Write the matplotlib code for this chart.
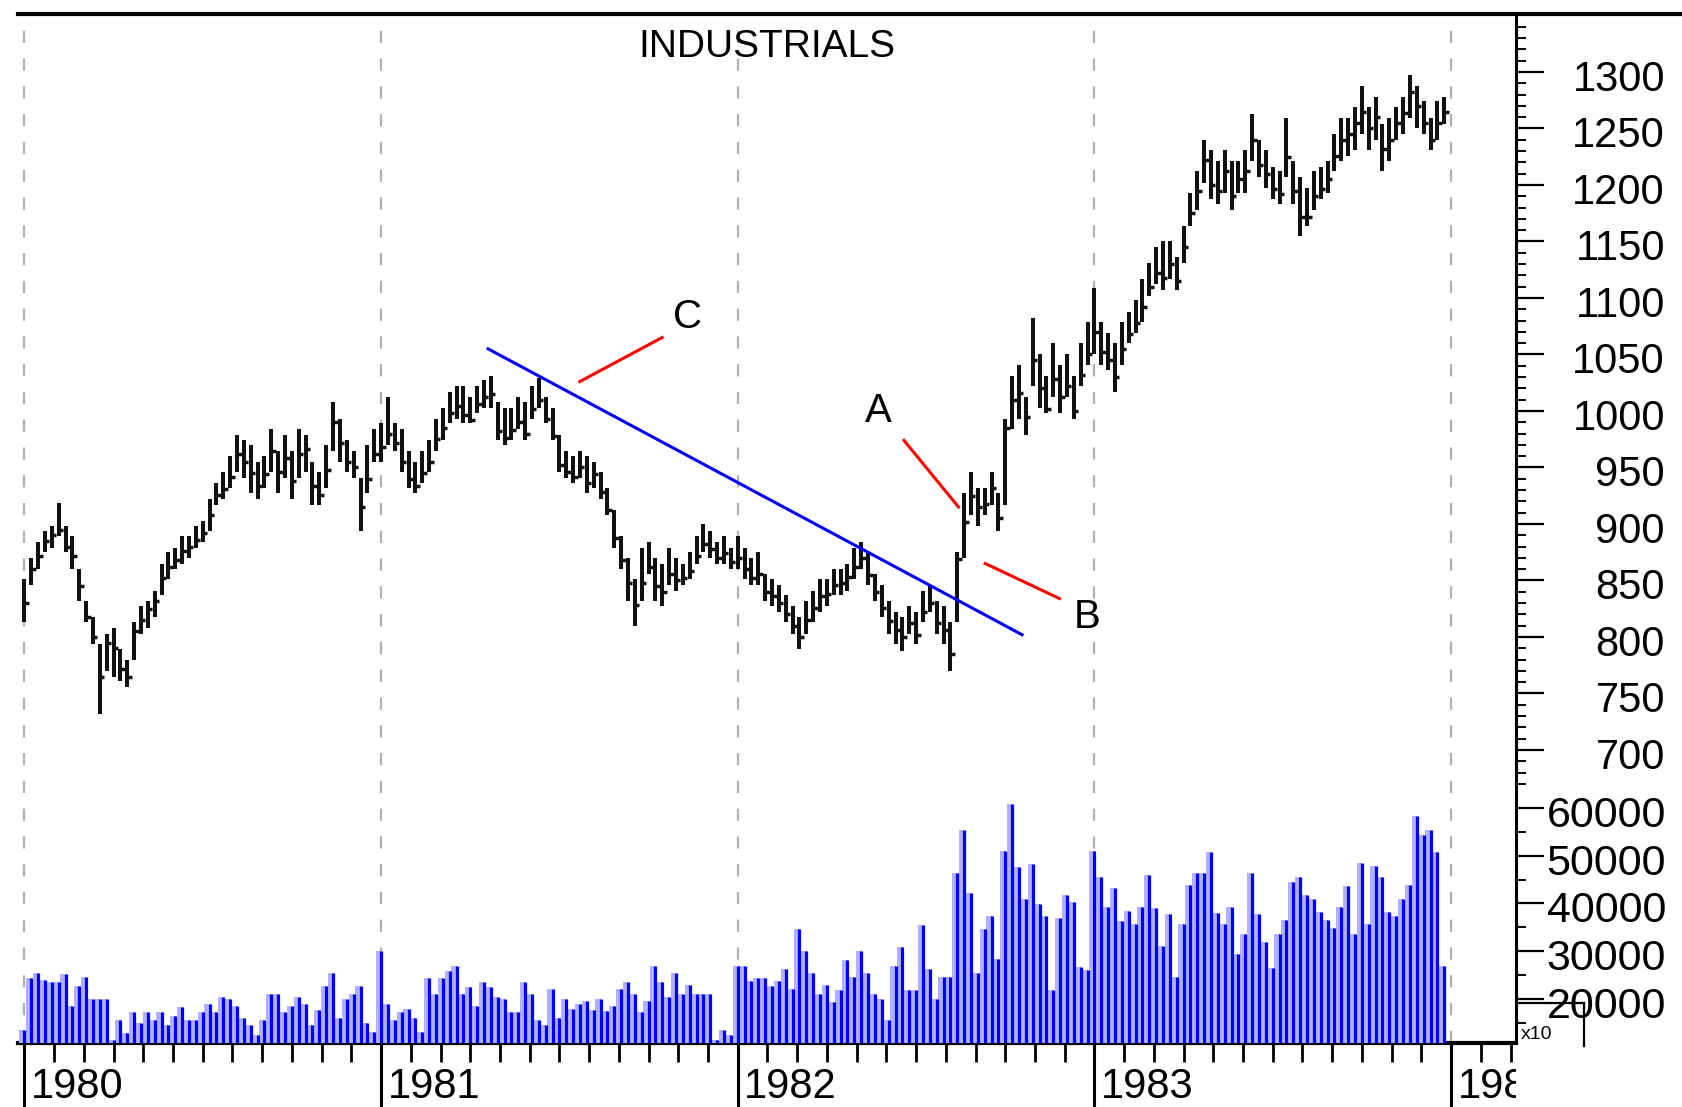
import numpy as np
import matplotlib
matplotlib.use("Agg")
import matplotlib.pyplot as plt
from matplotlib.lines import Line2D
from matplotlib.transforms import Bbox, TransformedBbox, ScaledTranslation, blended_transform_factory

plt.rcParams['font.family'] = ['Liberation Sans', 'DejaVu Sans']

# weekly high / low / close of the industrials
high_80 = [851, 870, 884, 894, 898, 919, 898, 889, 860, 832, 818, 794, 803, 808, 789, 780, 813, 827, 832, 841,
           865, 875, 879, 889, 889, 898, 903, 922, 936, 946, 960, 979, 974, 970, 955, 960, 984, 965, 979, 965,
           984, 979, 955, 946, 970, 1008, 993, 974, 965, 941, 970, 984]
low_80 = [813, 846, 860, 875, 879, 889, 875, 860, 832, 813, 794, 732, 770, 765, 761, 756, 780, 803, 808, 818,
          837, 851, 860, 865, 870, 879, 884, 894, 917, 922, 932, 946, 941, 927, 922, 932, 946, 927, 941, 922,
          941, 946, 917, 917, 932, 965, 955, 946, 941, 894, 927, 955]
close_80 = [830, 860, 872, 885, 890, 895, 880, 872, 845, 818, 800, 765, 795, 790, 772, 765, 805, 815, 825, 832,
            852, 862, 868, 876, 880, 886, 892, 908, 926, 931, 942, 962, 955, 945, 934, 944, 965, 946, 958, 938,
            962, 966, 934, 926, 948, 990, 972, 955, 950, 915, 940, 962]

high_81 = [989, 1012, 989, 984, 965, 955, 965, 974, 993, 1003, 1017, 1022, 1022, 1012, 1022, 1027, 1031, 1008, 1003, 1003,
           1012, 1008, 1022, 1029, 1012, 1003, 979, 965, 960, 965, 960, 955, 946, 932, 912, 889, 870, 851, 879, 884,
           870, 865, 879, 870, 865, 875, 889, 900, 894, 884, 889, 879]
low_81 = [955, 970, 965, 946, 932, 927, 936, 946, 965, 974, 989, 993, 989, 989, 998, 1003, 1003, 974, 970, 974,
          984, 974, 993, 1003, 989, 974, 946, 941, 936, 941, 927, 932, 922, 908, 879, 860, 832, 810, 832, 856,
          832, 827, 846, 841, 846, 851, 865, 875, 870, 865, 865, 860]
close_81 = [968, 980, 972, 955, 940, 934, 945, 955, 975, 985, 998, 1004, 996, 992, 1006, 1012, 1015, 982, 976, 983,
            990, 980, 1002, 1010, 993, 978, 952, 946, 942, 950, 936, 944, 928, 912, 888, 868, 848, 828, 848, 862,
            845, 840, 856, 850, 852, 858, 872, 882, 878, 870, 874, 866]

high_82 = [889, 879, 870, 875, 856, 851, 846, 837, 827, 818, 832, 841, 851, 851, 860, 860, 865, 879, 884, 875,
           856, 846, 832, 822, 818, 827, 822, 841, 846, 832, 827, 813, 875, 927, 946, 932, 932, 946, 927, 993,
           1031, 1041, 1012, 1082, 1050, 1031, 1060, 1041, 1050, 1031, 1060, 1079]
low_82 = [860, 851, 846, 846, 832, 827, 822, 813, 803, 789, 803, 813, 822, 827, 837, 837, 841, 851, 860, 846,
          832, 818, 803, 794, 788, 803, 794, 813, 822, 803, 794, 770, 813, 870, 908, 898, 908, 917, 894, 917,
          984, 993, 979, 1022, 1003, 998, 1012, 998, 1012, 993, 1022, 1041]
close_82 = [870, 860, 852, 856, 840, 836, 830, 820, 810, 800, 815, 826, 836, 838, 846, 848, 853, 862, 870, 855,
            840, 826, 814, 806, 800, 812, 802, 822, 830, 812, 806, 785, 869, 902, 925, 915, 918, 932, 905, 985,
            1010, 1016, 995, 1045, 1020, 1002, 1028, 1012, 1022, 1000, 1032, 1050]

high_83 = [1109, 1079, 1069, 1060, 1079, 1088, 1098, 1117, 1131, 1145, 1150, 1150, 1136, 1164, 1193, 1212, 1240, 1231, 1221, 1231,
           1221, 1221, 1231, 1263, 1240, 1231, 1216, 1212, 1259, 1221, 1207, 1197, 1212, 1216, 1221, 1245, 1259, 1259, 1269, 1288,
           1269, 1278, 1254, 1259, 1269, 1278, 1297, 1288, 1274, 1259, 1274, 1278]
low_83 = [1050, 1041, 1036, 1017, 1041, 1060, 1069, 1079, 1102, 1112, 1107, 1117, 1107, 1131, 1164, 1178, 1202, 1188, 1183, 1193,
          1178, 1193, 1193, 1221, 1207, 1197, 1188, 1183, 1207, 1183, 1155, 1164, 1178, 1188, 1193, 1212, 1221, 1226, 1231, 1245,
          1231, 1240, 1212, 1221, 1240, 1245, 1259, 1250, 1245, 1231, 1240, 1254]
close_83 = [1070, 1052, 1045, 1030, 1055, 1068, 1078, 1092, 1110, 1122, 1118, 1130, 1115, 1145, 1175, 1195, 1222, 1200, 1195, 1212,
            1190, 1205, 1212, 1240, 1218, 1210, 1196, 1192, 1225, 1195, 1172, 1172, 1190, 1196, 1205, 1226, 1240, 1245, 1255, 1265,
            1250, 1260, 1232, 1240, 1255, 1264, 1282, 1270, 1255, 1240, 1255, 1265]

# weekly volume (axis shown in units of x10)
vol_80 = [13500, 24500, 25500, 24000, 23500, 23500, 25300, 18500, 22800, 24600, 20000, 20000, 20000, 11500, 15600, 12800,
          17300, 15000, 17300, 15600, 17300, 14500, 16500, 18300, 15600, 15600, 17300, 19000, 17300, 20500, 20000, 18500,
          16000, 14500, 12500, 15500, 21000, 21000, 17300, 18500, 20500, 19000, 14500, 17800, 22800, 25500, 16000, 20000,
          21000, 22800, 15000, 13000]
vol_81 = [30000, 19000, 15500, 17300, 18000, 16000, 13000, 24500, 21000, 24500, 25800, 27000, 21000, 22500, 18500, 23500,
          22500, 20500, 20000, 17300, 17300, 23500, 21000, 15700, 14500, 22000, 16000, 20000, 18000, 19000, 19500, 17700,
          20000, 17500, 18500, 22000, 23500, 21000, 17300, 19500, 27000, 23500, 20500, 25500, 21000, 23000, 21100, 21100,
          21100, 11500, 13500, 12500]
vol_82 = [27000, 27000, 23800, 24500, 24500, 22800, 23800, 26300, 22000, 34700, 30000, 25500, 21100, 23000, 19400, 21800,
          28100, 24700, 30000, 25500, 21100, 20000, 15600, 27000, 30900, 21800, 21800, 35500, 26300, 20000, 24700, 24700,
          46300, 55300, 42200, 25500, 34700, 37300, 28300, 51000, 60800, 47700, 41000, 48200, 39900, 37400, 21800, 37000,
          41800, 40400, 26700, 26000]
vol_83 = [51000, 45500, 39300, 43300, 36400, 38500, 35700, 39300, 46000, 39100, 31200, 37800, 24700, 35700, 43800, 46300,
          46300, 50700, 38100, 35700, 39300, 29500, 33700, 46300, 37800, 31900, 26500, 33700, 36500, 44500, 45500, 41800,
          41000, 38200, 36500, 34900, 39300, 43600, 33700, 48400, 35700, 47900, 45500, 38200, 37300, 41000, 43800, 58300,
          54400, 55300, 50700, 27000]

years = [1980, 1981, 1982, 1983, 1984]
price_ticks = [700, 750, 800, 850, 900, 950, 1000, 1050, 1100, 1150, 1200, 1250, 1300]
vol_ticks = [20000, 30000, 40000, 50000, 60000]

# trendline and pointers (date, price)
trend_x, trend_y = [1981.300, 1982.797], [1055, 802]
pointers = {
    "C": ([1981.557, 1981.788], [1026, 1065], (1981.858, 1083)),
    "A": ([1982.466, 1982.619], [974, 915], (1982.393, 1000)),
    "B": ([1982.694, 1982.902], [865, 834], (1982.980, 818)),
}

high = np.array(high_80 + high_81 + high_82 + high_83)
low = np.array(low_80 + low_81 + low_82 + low_83)
close = np.array(close_80 + close_81 + close_82 + close_83)
vol = np.array(vol_80 + vol_81 + vol_82 + vol_83)
x = 1980 + np.arange(len(high)) / 52.0

W, H = 1683, 1107
RIGHT = 1516
fig = plt.figure(figsize=(W / 100, H / 100), dpi=100)
ax = fig.add_axes([18 / W, (H - 1043) / H, (RIGHT - 18) / W, (1043 - 14) / H])
ax2 = ax.twinx()

vol_floor = 10785
ax.set_xlim(1979.982, 1984.182)
ax.set_ylim(440.7, 1351.3)
ax2.set_ylim(vol_floor, 226283)

# year grid
for yr in years:
    ax.axvline(yr, color="#b0b0b0", lw=1.6, ls=(0, (5.5, 7)), zorder=0)

# price bars
ax.vlines(x, low, high, color="#111111", lw=2.9, zorder=3)
ax.hlines(close, x, x + 0.65 / 52, color="#111111", lw=2.5, zorder=3)

# volume bars
ax2.bar(x - 0.35 / 52, vol - vol_floor, bottom=vol_floor, width=0.8 / 52, color="#b0b0ff", zorder=2)
ax2.vlines(x, vol_floor, vol, color="#0000ff", lw=2.3, zorder=3)

# trendline and pointers
ax.plot(trend_x, trend_y, color="#0000ff", lw=2.2, zorder=4)
for letter, (px, py, (tx, ty)) in pointers.items():
    ax.plot(px, py, color="#ff0000", lw=2.2, zorder=4)
    ax.text(tx, ty, letter, ha="center", va="center", fontsize=29)

# spines
for s in ["left", "top"]:
    ax.spines[s].set_visible(False)
for s in ["left", "top", "right", "bottom"]:
    ax2.spines[s].set_visible(False)
ax.spines["right"].set_linewidth(2.2)
ax.spines["bottom"].set_linewidth(3)

# x ticks: years long, months short
months = [yr + m / 12 for yr in years for m in range(1, 12) if yr + m / 12 < 1984.18]
ax.set_xticks(years)
ax.set_xticks(months, minor=True)
ax.tick_params(axis="x", which="major", direction="out", length=46, width=2.2, labelbottom=False)
ax.tick_params(axis="x", which="minor", direction="out", length=14, width=2.0)

# y ticks on the right
price_minor = [v for v in range(680, 1350, 10) if v % 50 != 0]
vol_minor = [15000, 25000, 35000, 45000, 55000, 65000]
ax.yaxis.tick_right()
ax.set_yticks(price_ticks)
ax.set_yticks(price_minor, minor=True)
ax.tick_params(axis="y", which="major", direction="out", length=20, width=1.6, labelright=False, left=False)
ax.tick_params(axis="y", which="minor", direction="out", length=7, width=1.4, left=False)
ax2.set_yticks(vol_ticks)
ax2.set_yticks(vol_minor, minor=True)
ax2.tick_params(axis="y", which="major", direction="out", length=20, width=1.6, labelright=False)
ax2.tick_params(axis="y", which="minor", direction="out", length=7, width=1.4)

down = ScaledTranslation(0, -8 / 100, fig.dpi_scale_trans)
tr_p = blended_transform_factory(fig.transFigure, ax.transData) + down
for v in price_ticks:
    ax.text(1665 / W, v, str(v), transform=tr_p, ha="right", va="center", fontsize=30)
tr_v = blended_transform_factory(fig.transFigure, ax2.transData) + down
for v in vol_ticks:
    ax2.text(1666 / W, v, str(v), transform=tr_v, ha="right", va="center", fontsize=31, zorder=5)

# year labels, the last one clipped at the right axis
tr_x = blended_transform_factory(ax.transData, fig.transFigure)
clip = TransformedBbox(Bbox([[0, 0], [RIGHT / W, 1]]), fig.transFigure)
for yr in years:
    t = fig.text(yr + 0.018, 9 / H, str(yr), transform=tr_x, ha="left", va="baseline", fontsize=30)
    t.set_clip_on(True)
    t.set_clip_box(clip)

# title
fig.text(767 / W, 1 - 47 / H, "INDUSTRIALS", ha="center", va="center", fontsize=28)

# top border running past the right axis
fig.add_artist(Line2D([18 / W, 1], [1 - 14 / H] * 2, color="black", lw=3, transform=fig.transFigure))

# [x10] box under the volume scale
box = dict(color="black", lw=1.6, transform=fig.transFigure)
fig.add_artist(Line2D([1518 / W, 1584 / W], [1 - 1003 / H] * 2, **box))
fig.add_artist(Line2D([1584 / W, 1584 / W], [1 - 1003 / H, 1 - 1046 / H], **box))
fig.text(1521 / W, 1 - 1043 / H, "x10", ha="left", va="bottom", fontsize=14)

fig.savefig("out.png", dpi=100)
